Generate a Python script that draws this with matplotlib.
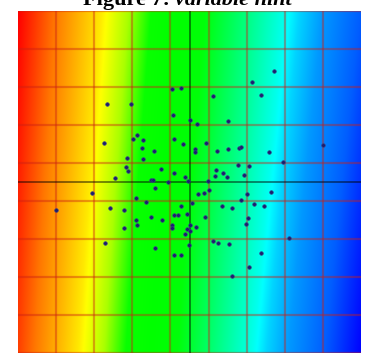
import numpy as np
import matplotlib
matplotlib.use("Agg")
import matplotlib.pyplot as plt
from matplotlib.colors import hsv_to_rgb

# scatter sample (x, y)
xs = [-2.17, -1.54, -0.46, -0.22, -0.43, -1.38, -1.48, -1.22, -0.41, -0.17,
      -2.24, -1.25, -0.93, -1.64, -1.22, -1.67, -1.61, -0.75, -0.41, -1.96,
      -1.01, -0.96, -0.56, -0.12, -0.91, 2.22, 1.64, 0.62, 1.88, 0.01,
      0.20, 1.01, 0.43, 0.14, 0.14, 0.72, 1.01, 1.30, 1.35, 2.09,
      3.50, 1.27, 1.56, 2.45, 0.70, 0.88, 0.67, 0.98, 1.43, -0.04,
      0.49, 0.51, 0.38, 0.22, -2.56, -1.40, 1.51, 2.14, 0.07, 1.35,
      1.69, 1.96, 0.85, 1.12, -0.22, -0.41, -0.30, -0.07, 0.41, -0.46,
      -0.46, 0.01, 1.54, 1.48, -0.07, 0.17, 0.01, -0.12, 0.62, 0.75,
      1.04, 2.61, -0.01, -0.41, -0.22, 1.88, 1.56, 1.12, -1.14, -3.50,
      -2.09, -1.72, -1.01, -0.72, -1.40, -1.38, -1.72, -2.22, -0.91]
ys = [2.05, 2.05, 2.45, 2.47, 1.76, 1.24, 1.13, 1.11, 1.13, 1.00,
      1.03, 0.89, 0.82, 0.63, 0.61, 0.39, 0.29, 0.34, 0.24, 0.11,
      0.05, 0.05, 0.00, 0.13, -0.16, 2.92, 2.63, 2.26, 2.29, 1.63,
      1.53, 1.61, 1.03, 0.87, 0.79, 0.82, 0.87, 0.89, 0.92, 0.79,
      0.97, 0.45, 0.42, 0.53, 0.32, 0.24, 0.16, 0.13, 0.18, 0.03,
      0.03, -0.21, -0.29, -0.32, -0.29, -0.42, -0.32, -0.26, -0.55, -0.47,
      -0.58, -0.63, -0.63, -0.68, -0.63, -0.87, -0.87, -0.84, -0.92, -1.13,
      -1.21, -1.13, -0.95, -1.11, -1.24, -1.18, -1.29, -1.37, -1.55, -1.61,
      -1.63, -1.47, -1.66, -1.92, -1.92, -1.87, -2.24, -2.47, -0.53, -0.74,
      -0.68, -0.74, -0.92, -1.00, -1.00, -1.13, -1.21, -1.61, -1.74]

# hue ramp of the background, stops along the top edge
hue_stops = [-4.50, -3.53, -2.32, -1.61, -1.01, 0.41, 1.51, 2.51, 2.90, 3.50, 4.50, 5.52]
hue_deg = [0, 28, 55, 80, 118, 122, 150, 176, 190, 204, 218, 240]

lim = 4.5
grid_ticks = np.arange(-lim, lim + 0.01, 1.0)

fig = plt.figure(figsize=(3.69, 3.58), dpi=100)
ax = fig.add_axes([18 / 369, 5 / 358, 343 / 369, 342 / 358])

# background: hue drifts a little towards blue going down
n = 400
gx, gy = np.meshgrid(np.linspace(-lim, lim, n), np.linspace(lim, -lim, n))
yfrac = (lim - gy) / (2 * lim)
xfrac = (gx + lim) / (2 * lim)
u = gx + yfrac * (0.52 + 0.48 * xfrac)
hue = np.interp(u, hue_stops, hue_deg) / 360.0
rgb = hsv_to_rgb(np.dstack([hue, np.ones_like(hue), np.ones_like(hue)]))
ax.imshow(rgb, extent=[-lim, lim, -lim, lim], origin="upper", aspect="auto",
          interpolation="bilinear", zorder=0)

grid_col = (0.8, 0.12, 0.08)
for t in grid_ticks[1:-1]:
    ax.axvline(t, color=grid_col, alpha=0.42, lw=1.6, zorder=1)
for t in grid_ticks:
    ax.axhline(t, color=grid_col, alpha=0.42, lw=1.6, zorder=1)
ax.axvline(0, color="black", alpha=0.55, lw=1.2, zorder=2)
ax.axhline(0, color="black", alpha=0.55, lw=1.2, zorder=2)

ax.scatter(xs, ys, s=7, color="#1c1f6e", edgecolors="#3a3f8a", linewidths=0.4, zorder=3)

ax.set_xlim(-lim, lim)
ax.set_ylim(-lim, lim)
ax.set_xticks([])
ax.set_yticks([])
for sp in ax.spines.values():
    sp.set_visible(False)

# title: plain bold part followed by bold italic part
fig.canvas.draw()
renderer = fig.canvas.get_renderer()
ty = 1 - 5 / 358
font = dict(family="Liberation Serif", size=16, weight="bold")
t1 = fig.text(0, ty, "Figure 7: ", va="baseline", **font)
t2 = fig.text(0, ty, "variable hint", va="baseline", style="italic", **font)
w1 = t1.get_window_extent(renderer).width
w2 = t2.get_window_extent(renderer).width
figw = fig.bbox.width
x0 = 0.508 * figw - (w1 + w2) / 2
t1.set_x(x0 / figw)
t2.set_x((x0 + w1) / figw)

fig.savefig("out.png", dpi=100)
